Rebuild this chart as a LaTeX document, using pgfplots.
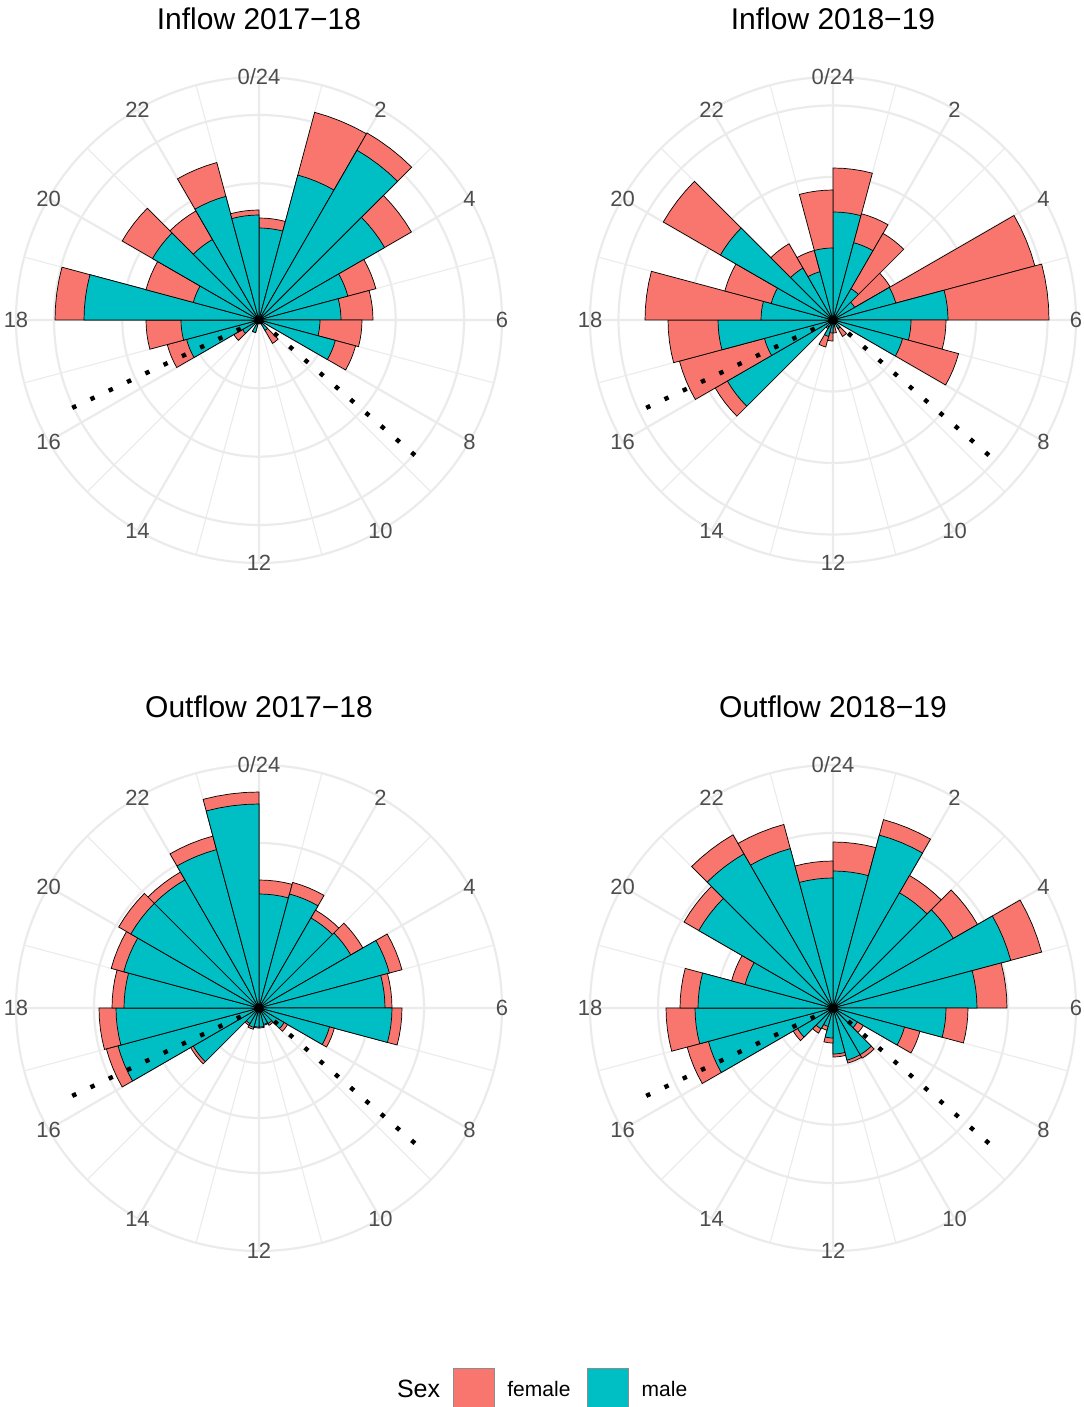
\documentclass[border=0pt]{standalone}
\usepackage{fontspec}
\setmainfont{Liberation Sans}
\usepackage{pgfplots}
\usepackage{pgfplotstable}
\pgfplotsset{compat=1.18}
\usepgfplotslibrary{polar}

\definecolor{fem}{HTML}{F8766D}
\definecolor{mal}{HTML}{00BFC4}
\definecolor{gridc}{HTML}{EBEBEB}
\definecolor{grey30}{HTML}{4D4D4D}

% hour, male, female (radial lengths, stacked: female on top of male)
\pgfplotstableread{
h m f
0 92 10
1 150 65
2 196 20
3 145 31
4 92 29
5 82 32
6 61 42
7 79 21
8 0 0
9 12 15
10 0 0
11 0 0
12 0 0
13 13 0
14 0 0
15 19 10
16 75 20
17 78 35
18 175 29
19 68 49
20 123 35
21 93 33
22 128 35
23 105 5
}\tabA

\pgfplotstableread{
h m f
0 108 44
1 80 30
2 36 64
3 25 41
4 65 144
5 115 101
6 78 35
7 72 58
8 0 0
9 10 9
10 0 0
11 7 6
12 13 8
13 17 11
14 8 2
15 122 14
16 71 88
17 115 50
18 72 116
19 64 48
20 130 66
21 60 28
22 50 22
23 72 58
}\tabB

\pgfplotstableread{
h m f
0 114 14
1 118 12
2 104 9
3 106 14
4 135 13
5 126 7
6 133 10
7 73 5
8 29 4
9 18 2
10 17 1
11 19 1
12 19 1
13 20 2
14 18 2
15 76 3
16 146 12
17 143 17
18 135 12
19 140 13
20 148 14
21 148 9
22 164 14
23 204 12
}\tabC

\pgfplotstableread{
h m f
0 137 29
1 179 16
2 133 20
3 139 28
4 184 32
5 144 30
6 113 22
7 74 16
8 28 7
9 54 4
10 54 3
11 46 3
12 30 5
13 19 4
14 24 5
15 41 5
16 129 22
17 138 29
18 135 18
19 91 14
20 155 17
21 178 22
22 165 25
23 130 17
}\tabD

\newcommand\rosebars[1]{%
  \pgfplotsinvokeforeach{0,...,23}{%
    \pgfplotstablegetelem{##1}{m}\of{#1}\let\rbm\pgfplotsretval
    \pgfplotstablegetelem{##1}{f}\of{#1}\let\rbf\pgfplotsretval
    \pgfmathsetmacro\rbt{\rbm+\rbf}%
    \pgfmathsetmacro\rba{##1<6 ? 90-15*##1 : 450-15*##1}%
    \pgfmathsetmacro\rbb{\rba-3.75}%
    \pgfmathsetmacro\rbc{\rba-7.5}%
    \pgfmathsetmacro\rbd{\rba-11.25}%
    \pgfmathsetmacro\rbe{\rba-15}%
    \edef\rbtmp{%
      \noexpand\addplot[draw=black, line width=0.35pt, fill=fem, forget plot]
        coordinates {(\rba,0) (\rba,\rbt) (\rbb,\rbt) (\rbc,\rbt) (\rbd,\rbt) (\rbe,\rbt) (\rbe,0)};
      \noexpand\addplot[draw=black, line width=0.35pt, fill=mal, forget plot]
        coordinates {(\rba,0) (\rba,\rbm) (\rbb,\rbm) (\rbc,\rbm) (\rbd,\rbm) (\rbe,\rbm) (\rbe,0)};
    }%
    \rbtmp
  }%
}

\newcommand\sunlines{%
  \addplot[black, line width=2.2pt, dash pattern=on 2.2pt off 7.9pt, forget plot]
    coordinates {(319.05,0) (319.05,216)};
  \addplot[black, line width=2.2pt, dash pattern=on 2.2pt off 7.9pt, forget plot]
    coordinates {(205.2,0) (205.2,216)};
  \addplot[only marks, mark=*, mark size=2pt, black, forget plot]
    coordinates {(0,0)};
}

\pgfplotsset{
  rose/.style={
    at={#1}, anchor=center,
    scale only axis, width=243pt, height=243pt,
    xmin=0, xmax=360, ymin=0, ymax=243,
    xtick={0,30,...,330},
    xticklabels={6,4,2,0/24,22,20,18,16,14,12,10,8},
    minor xtick={15,45,...,345},
    xmajorgrids=true, xminorgrids=true, ymajorgrids=true,
    yticklabels={},
    major tick length=0pt, minor tick length=0pt,
    major grid style={draw=gridc, line width=1.1pt},
    minor grid style={draw=gridc, line width=0.55pt},
    axis line style={draw=gridc, line width=1.1pt},
    xticklabel style={font=\fontsize{11}{13}\selectfont, text=grey30, anchor=center, inner sep=0pt},
    title style={font=\fontsize{15}{18}\selectfont, at={(0.5,1)}, anchor=center, yshift=14.5pt},
    clip=false,
  },
}

\begin{document}
\begin{tikzpicture}
\useasboundingbox (0,0) rectangle (541.5pt,703.5pt);

\begin{polaraxis}[rose={(129.5pt,543.5pt)}, ytick={68.3,136.7,205}, title={Inflow 2017−18}]
\rosebars{\tabA}
\sunlines
\end{polaraxis}

\begin{polaraxis}[rose={(416.5pt,543.5pt)}, ytick={71.5,143,214.5}, title={Inflow 2018−19}]
\rosebars{\tabB}
\sunlines
\end{polaraxis}

\begin{polaraxis}[rose={(129.5pt,199.5pt)}, ytick={55,110,165}, title={Outflow 2017−18}]
\rosebars{\tabC}
\sunlines
\end{polaraxis}

\begin{polaraxis}[rose={(416.5pt,199.5pt)}, ytick={58.3,116.7,175}, title={Outflow 2018−19}]
\rosebars{\tabD}
\sunlines
\end{polaraxis}

\begin{axis}[at={(0pt,0pt)}, anchor=south west, scale only axis,
  width=541.5pt, height=703.5pt, xmin=0, xmax=1, ymin=0, ymax=1, hide axis,
  legend columns=-1,
  legend style={draw=none, fill=none, at={(0.3666,0.01315)}, anchor=west,
    inner sep=0pt, outer sep=0pt, column sep=0pt, row sep=0pt,
    nodes={inner sep=0pt, text=black, font=\fontsize{10.5}{12}\selectfont}},
  legend cell align=left]
\addlegendimage{legend image code/.code={}}
\addlegendentry{\fontsize{12.5}{14}\selectfont Sex\rule{6.5pt}{0pt}}
\addlegendimage{legend image code/.code={\draw[fill=fem, draw=black!45, line width=0.3pt] (0pt,-9.4pt) rectangle (20.5pt,11.1pt); \path[draw=none, fill=none] (20.5pt,0pt) -- (27pt,0pt);}}
\addlegendentry{female\rule{8.5pt}{0pt}}
\addlegendimage{legend image code/.code={\draw[fill=mal, draw=black!45, line width=0.3pt] (0pt,-9.4pt) rectangle (20.5pt,11.1pt); \path[draw=none, fill=none] (20.5pt,0pt) -- (27pt,0pt);}}
\addlegendentry{male}
\end{axis}
\end{tikzpicture}
\end{document}
